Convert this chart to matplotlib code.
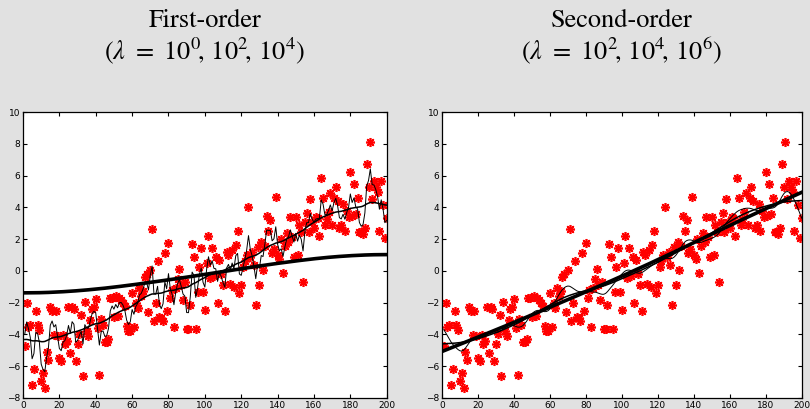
import matplotlib
matplotlib.use('Agg')
import matplotlib.pyplot as plt
import numpy as np

# noisy samples, t = 1..200
y = [-4.7, -2.05, -3.5, -3.4, -7.2, -6.2, -2.5, -3.4, -3.7, -6.9,
     -6.4, -7.4, -5.1, -5.6, -2.3, -2.5, -4.05, -2.5, -4.1, -5.5,
     -5.7, -4.05, -4.6, -4.4, -2.3, -5.15, -2.3, -2.4, -5.7, -4.6,
     -4.0, -2.75, -6.6, -1.95, -3.8, -4.1, -3.1, -2.4, -2.3, -1.75,
     -3.6, -6.55, -3.0, -3.4, -4.5, -4.5, -4.3, -1.7, -1.7, -2.9,
     -1.6, -2.85, -1.7, -1.8, -2.0, -2.2, -3.45, -3.8, -3.8, -1.36,
     -3.5, -2.0, -2.35, -1.1, -1.6, -1.26, -0.4, -0.21, -2.6, 0.06,
     2.64, -3.14, -2.0, 0.65, -2.9, -2.98, -3.14, 1.11, -2.5, 1.74,
     -1.72, -1.2, -3.56, -1.09, -0.5, 0.13, -0.9, -1.82, -0.67, -3.65,
     -3.65, -2.14, 1.68, 0.9, -3.65, -1.34, 0.27, 1.43, -1.3, -2.45,
     0.48, 2.2, -0.46, 1.42, -0.3, 0.9, -2.0, 0.69, -0.2, -0.88,
     -2.5, 1.2, 1.0, -0.8, 1.32, -1.03, 1.63, 2.54, -1.4, -0.88,
     0.27, 0.6, 1.0, 4.0, 0.9, 1.2, 0.4, -2.14, 1.5, -0.88,
     1.84, 0.06, 1.6, 3.46, 2.54, 3.21, 1.11, 1.4, 4.63, 1.0,
     0.73, 2.0, -0.15, 1.6, 2.37, 1.84, 3.42, 2.16, 0.9, 3.41,
     1.0, 2.89, 2.47, -0.67, 3.06, 3.62, 2.47, 4.53, 3.1, 2.68,
     3.42, 3.31, 2.2, 5.87, 4.61, 2.89, 3.27, 3.73, 4.88, 2.89,
     4.57, 5.3, 4.4, 2.68, 2.89, 4.19, 2.51, 3.8, 3.42, 6.25,
     3.48, 5.45, 3.6, 4.61, 2.43, 2.47, 2.3, 2.68, 6.71, 5.3,
     8.13, 4.5, 5.66, 5.3, 4.99, 2.51, 5.66, 4.15, 2.05, 3.31]

lambdas_first = [1e0, 1e2, 1e4]
lambdas_second = [1e2, 1e4, 1e6]
widths = [0.7, 1.1, 2.6]


def smooth(y, lam, order):
    # quadratic trend filter: (I + lam D'D) x = y
    n = len(y)
    D = np.diff(np.eye(n), n=order, axis=0)
    return np.linalg.solve(np.eye(n) + lam * D.T @ D, np.asarray(y))


t = np.arange(1, len(y) + 1)

plt.rcParams['mathtext.fontset'] = 'stix'
fig = plt.figure(figsize=(8.1, 4.09), dpi=100, facecolor='#e1e1e1')

panels = [
    ([0.0284, 0.0269, 0.449, 0.699], 1, lambdas_first,
     'First-order', r'$(\lambda\ =\ 10^0\!,\, 10^2\!,\, 10^4)$'),
    ([0.5457, 0.0269, 0.444, 0.699], 2, lambdas_second,
     'Second-order', r'$(\lambda\ =\ 10^2\!,\, 10^4\!,\, 10^6)$'),
]

for rect, order, lams, title1, title2 in panels:
    ax = fig.add_axes(rect)
    ax.plot(t, y, linestyle='none', marker=(8, 2, 0), color='red',
            markersize=6.5, markeredgewidth=1.2)
    for lam, lw in zip(lams, widths):
        ax.plot(t, smooth(y, lam, order), color='black', linewidth=lw)
    ax.set_xlim(0, 200)
    ax.set_ylim(-8, 10)
    ax.set_xticks(np.arange(0, 201, 20))
    ax.set_yticks(np.arange(-8, 11, 2))
    ax.tick_params(direction='in', top=True, right=True, labelsize=6.5,
                   length=3, pad=2)
    for s in ax.spines.values():
        s.set_linewidth(0.9)

    cx = rect[0] + rect[2] / 2
    fig.text(cx, 1 - 21 / 409, title1, ha='center', va='center',
             family='STIXGeneral', fontsize=19)
    fig.text(cx, 1 - 51 / 409, title2, ha='center', va='center',
             fontsize=19)

plt.savefig('out.png', dpi=100, facecolor=fig.get_facecolor())
plt.close()
